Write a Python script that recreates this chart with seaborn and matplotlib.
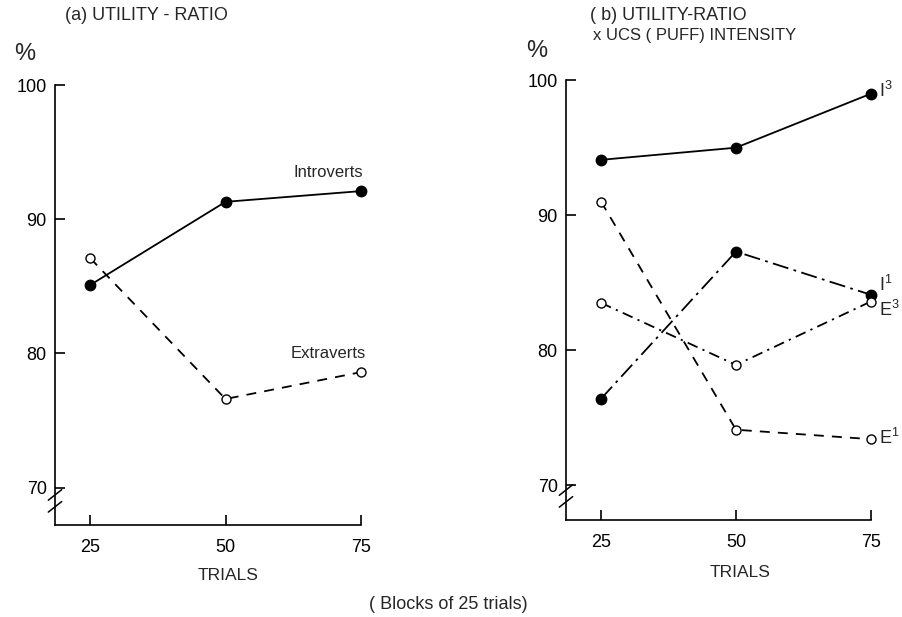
import matplotlib
matplotlib.use("Agg")
import matplotlib.pyplot as plt
import seaborn as sns
import pandas as pd

sns.set_theme(style="white")
plt.rcParams["font.family"] = ["Liberation Sans", "DejaVu Sans"]
plt.rcParams["mathtext.fontset"] = "custom"
plt.rcParams["mathtext.rm"] = "Liberation Sans"

trials = [25, 50, 75]
yticks = [70, 80, 90, 100]

# (a) utility ratio by personality group
introverts = [85.1, 91.3, 92.1]
extraverts = [87.1, 76.6, 78.6]

# (b) utility ratio x UCS (puff) intensity
i3 = [94.1, 95.0, 99.0]
e1 = [91.0, 74.1, 73.4]
i1 = [76.4, 87.3, 84.1]
e3 = [83.5, 78.9, 83.6]

fig = plt.figure(figsize=(9.02, 6.17), dpi=100)
ax_a = fig.add_axes([0.061, 0.149, 0.339, 0.713])
ax_b = fig.add_axes([0.6275, 0.157, 0.338, 0.713])

SOLID = "-"
DASHED = (0, (5.5, 4.5))
LONG_DASHDOT = (0, (9, 3, 1.5, 3))
DASHDOT = (0, (6, 3, 1.2, 3))


def draw(ax, values, ls, filled):
    df = pd.DataFrame({"trials": trials, "pct": values})
    sns.lineplot(
        data=df, x="trials", y="pct", ax=ax, color="black", linewidth=1.3,
        linestyle=ls, marker="o", markersize=7.5 if filled else 6.5,
        markerfacecolor="black" if filled else "white",
        markeredgecolor="black", markeredgewidth=1.0, clip_on=False,
        zorder=3,
    )


draw(ax_a, introverts, SOLID, True)
draw(ax_a, extraverts, DASHED, False)

draw(ax_b, i3, SOLID, True)
draw(ax_b, e1, DASHED, False)
draw(ax_b, i1, LONG_DASHDOT, True)
draw(ax_b, e3, DASHDOT, False)

for ax, ylo in ((ax_a, 67.2), (ax_b, 67.4)):
    ax.set_xlim(18.5, 75)
    ax.set_ylim(ylo, 100)
    ax.set_xticks(trials)
    ax.set_yticks(yticks)
    ax.set_xlabel("")
    ax.set_ylabel("")
    for side in ("top", "right"):
        ax.spines[side].set_visible(False)
    for side in ("left", "bottom"):
        ax.spines[side].set_color("black")
        ax.spines[side].set_linewidth(1.2)
    ax.tick_params(axis="both", direction="in", length=7, width=1.2,
                   colors="black", labelsize=13, bottom=True, left=True)
    ax.tick_params(axis="y", pad=6)
    ax.tick_params(axis="x", pad=10)
    # break marks on the y axis just below 70
    for dy in (-0.45, 0.45):
        ax.plot([-0.022, 0.022], [0.055 + dy * 0.03 - 0.012, 0.055 + dy * 0.03 + 0.012],
                transform=ax.transAxes, color="black", lw=1.1, clip_on=False)

ax_a.text(69.0, 92.9, "Introverts", fontsize=12, ha="center", va="bottom")
ax_a.text(69.0, 79.4, "Extraverts", fontsize=12, ha="center", va="bottom")

ax_b.text(76.5, 99.2, r"$\mathregular{I^3}$", fontsize=13, ha="left", va="center")
ax_b.text(76.5, 84.8, r"$\mathregular{I^1}$", fontsize=13, ha="left", va="center")
ax_b.text(76.5, 83.0, r"$\mathregular{E^3}$", fontsize=13, ha="left", va="center")
ax_b.text(76.5, 73.5, r"$\mathregular{E^1}$", fontsize=13, ha="left", va="center")

fig.text(0.072, 0.975, "(a) UTILITY - RATIO", fontsize=13, ha="left", va="center")
fig.text(0.016, 0.912, "%", fontsize=17, ha="left", va="center")
fig.text(0.654, 0.975, "( b) UTILITY-RATIO", fontsize=13, ha="left", va="center")
fig.text(0.657, 0.943, "x UCS ( PUFF) INTENSITY", fontsize=12, ha="left", va="center")
fig.text(0.583, 0.918, "%", fontsize=17, ha="left", va="center")

fig.text(0.253, 0.067, "TRIALS", fontsize=12.5, ha="center", va="center")
fig.text(0.820, 0.072, "TRIALS", fontsize=12.5, ha="center", va="center")
fig.text(0.497, 0.021, "( Blocks of 25 trials)", fontsize=13, ha="center", va="center")

fig.savefig("out.png", dpi=100, facecolor="white")
